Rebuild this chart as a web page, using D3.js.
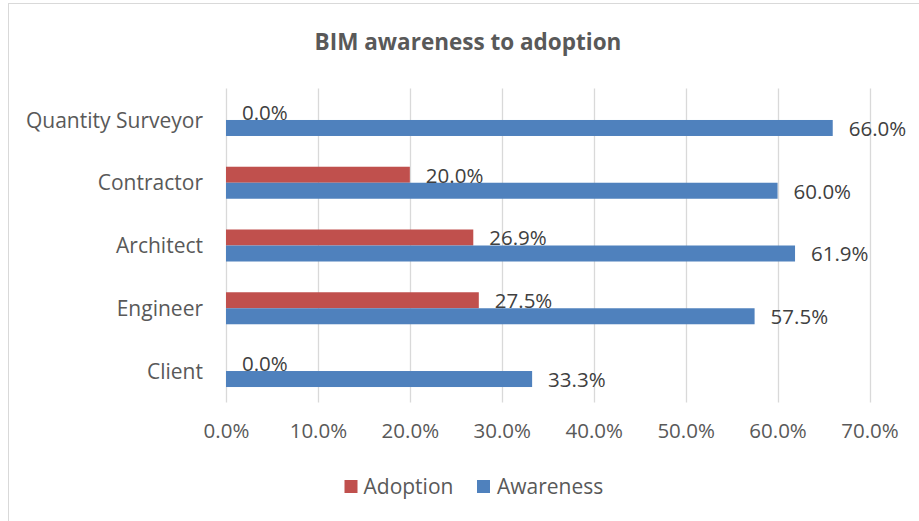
<!DOCTYPE html>
<html>
<head>
<meta charset="utf-8">
<script src="https://cdn.jsdelivr.net/npm/d3@7"></script>
<style>
  html, body { margin: 0; padding: 0; background: #fff; }
  svg { display: block; font-family: "Open Sans", "Liberation Sans", sans-serif; }
</style>
</head>
<body>
<svg id="chart" width="919" height="521"></svg>
<script>
// Categories, top to bottom
const categories = ["Quantity Surveyor", "Contractor", "Architect", "Engineer", "Client"];
// Series (percent)
const seriesNames = ["Adoption", "Awareness"];
const adoption = [0.0, 20.0, 26.9, 27.5, 0.0];
const awareness = [66.0, 60.0, 61.9, 57.5, 33.3];
// Axis ticks
const xTicks = [0, 10, 20, 30, 40, 50, 60, 70];

const colors = { Adoption: "#C0504D", Awareness: "#4F81BD" };

const svg = d3.select("#chart");
const W = 919, H = 521;
const plot = { left: 226, right: 869.5, top: 88.6, bottom: 402.4 };

// Chart frame
svg.append("rect")
  .attr("x", 8.5).attr("y", 3.5)
  .attr("width", W + 20).attr("height", H + 20)
  .attr("fill", "#fff")
  .attr("stroke", "#D9D9D9").attr("stroke-width", 1);

// Title
svg.append("text")
  .attr("x", 468).attr("y", 49.5)
  .attr("text-anchor", "middle")
  .attr("font-size", 22.5).attr("font-weight", "bold")
  .attr("fill", "#595959")
  .text("BIM awareness to adoption");

const x = d3.scaleLinear().domain([0, 70]).range([plot.left, plot.right]);
const y = d3.scaleBand().domain(categories)
  .range([plot.top, plot.bottom])
  .paddingInner(0.49).paddingOuter(0.245);
const ySub = d3.scaleBand().domain(seriesNames).range([0, y.bandwidth()]);

// Vertical gridlines
svg.append("g")
  .selectAll("line")
  .data(xTicks)
  .join("line")
  .attr("x1", d => Math.round(x(d)) + 0.5)
  .attr("x2", d => Math.round(x(d)) + 0.5)
  .attr("y1", plot.top).attr("y2", plot.bottom)
  .attr("stroke", "#D9D9D9").attr("stroke-width", 1.3);

// X axis tick labels
const xAxis = d3.axisBottom(x)
  .tickValues(xTicks)
  .tickFormat(d => d.toFixed(1) + "%")
  .tickSize(0).tickPadding(0);
const gx = svg.append("g")
  .attr("transform", `translate(0, ${plot.bottom})`)
  .call(xAxis);
gx.select(".domain").remove();
gx.selectAll("text")
  .attr("y", 36).attr("dy", 0)
  .attr("font-size", 20.5).attr("font-family", "Open Sans")
  .attr("fill", "#595959");

// Category axis labels
const yAxis = d3.axisLeft(y).tickSize(0).tickPadding(0);
const gy = svg.append("g")
  .attr("transform", `translate(203, 0)`)
  .call(yAxis);
gy.select(".domain").remove();
gy.selectAll("text")
  .attr("x", 0).attr("dy", "0.36em")
  .attr("font-size", 21).attr("font-family", "Open Sans")
  .attr("fill", "#595959");

// Bars
const rows = categories.map((c, i) => ({
  category: c,
  values: [
    { series: "Adoption", value: adoption[i] },
    { series: "Awareness", value: awareness[i] }
  ]
}));

const groups = svg.append("g")
  .selectAll("g")
  .data(rows)
  .join("g")
  .attr("transform", d => `translate(0, ${y(d.category)})`);

groups.selectAll("rect")
  .data(d => d.values)
  .join("rect")
  .attr("x", x(0))
  .attr("y", d => ySub(d.series))
  .attr("width", d => x(d.value) - x(0))
  .attr("height", ySub.bandwidth())
  .attr("fill", d => colors[d.series]);

// Value labels
groups.selectAll("text")
  .data(d => d.values)
  .join("text")
  .attr("x", d => x(d.value) + 16)
  .attr("y", d => ySub(d.series) + ySub.bandwidth() / 2)
  .attr("dy", "0.38em")
  .attr("font-size", 20.5)
  .attr("fill", "#404040")
  .text(d => d.value.toFixed(1) + "%");

// Legend
const legendItems = [
  { name: "Adoption", sx: 344.5, tx: 363.5 },
  { name: "Awareness", sx: 477, tx: 497 }
];
const legend = svg.append("g");
legend.selectAll("rect")
  .data(legendItems)
  .join("rect")
  .attr("x", d => d.sx).attr("y", 480)
  .attr("width", 13).attr("height", 13)
  .attr("fill", d => colors[d.name]);
legend.selectAll("text")
  .data(legendItems)
  .join("text")
  .attr("x", d => d.tx).attr("y", 486.5)
  .attr("dy", "0.36em")
  .attr("font-size", 21)
  .attr("fill", "#595959")
  .text(d => d.name);
</script>
</body>
</html>
